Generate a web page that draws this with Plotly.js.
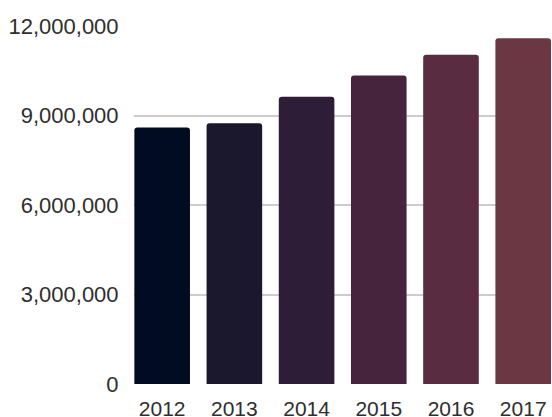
<!DOCTYPE html>
<html>
<head>
<meta charset="utf-8">
<script src="https://cdn.plot.ly/plotly-3.0.1.min.js"></script>
<style>html,body{margin:0;padding:0;background:#fff;}#chart{width:552px;height:417px;}</style>
</head>
<body>
<div id="chart"></div>
<script>
const years = ["2012", "2013", "2014", "2015", "2016", "2017"];
const values = [8600000, 8740000, 9630000, 10340000, 11040000, 11590000];
const barColors = ["#010c22", "#1b182e", "#2d1d36", "#46243d", "#592c42", "#6a3743"];
const yTicks = [0, 3000000, 6000000, 9000000, 12000000];
const yTickLabels = ["0", "3,000,000", "6,000,000", "9,000,000", "12,000,000"];

const trace = {
  type: "bar",
  x: years,
  y: values,
  marker: { color: barColors, cornerradius: 3, line: { width: 0 } },
  hoverinfo: "x+y"
};

const layout = {
  width: 552,
  height: 417,
  margin: { l: 134, r: 1, t: 26, b: 33, pad: 0 },
  paper_bgcolor: "#ffffff",
  plot_bgcolor: "#ffffff",
  showlegend: false,
  bargap: 0.23,
  font: { family: "Liberation Sans, Arial, sans-serif", size: 21, color: "#2e2e2e" },
  xaxis: {
    type: "category",
    range: [-0.39, 5.385],
    showgrid: false,
    zeroline: false,
    showline: false,
    ticks: "outside",
    ticklen: 6,
    tickcolor: "rgba(0,0,0,0)",
    tickfont: { family: "Liberation Sans, Arial, sans-serif", size: 21, color: "#2e2e2e" }
  },
  yaxis: {
    range: [0, 12000000],
    tickvals: yTicks,
    ticktext: yTickLabels,
    showgrid: true,
    gridcolor: "#cccccc",
    gridwidth: 2,
    zeroline: false,
    showline: false,
    ticks: "outside",
    ticklen: 10,
    tickcolor: "rgba(0,0,0,0)",
    tickfont: { family: "Liberation Sans, Arial, sans-serif", size: 22, color: "#2e2e2e" }
  }
};

Plotly.newPlot("chart", [trace], layout, { displayModeBar: false, staticPlot: true });
</script>
</body>
</html>
